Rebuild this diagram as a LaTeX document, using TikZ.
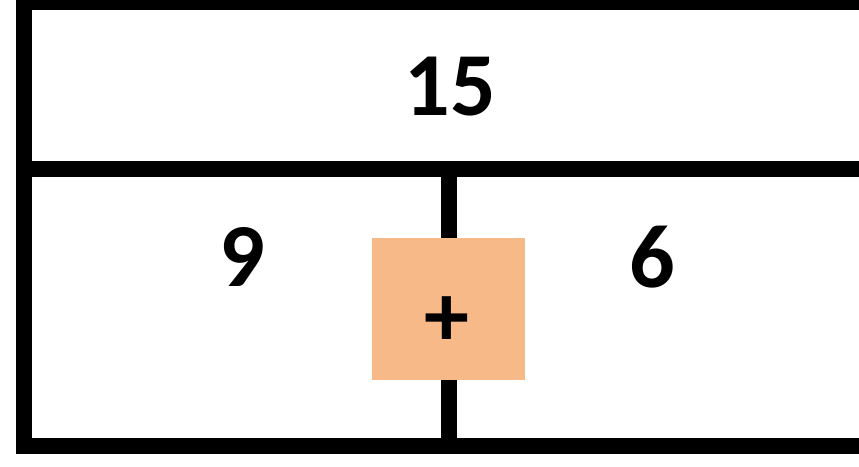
\documentclass[tikz,border=0pt]{standalone}
\usepackage{fontspec}
\setmainfont{Carlito}
\definecolor{plusbg}{HTML}{F6B987}
\begin{document}
\begin{tikzpicture}[x=1pt,y=-1pt,
  frame/.style={line width=16pt,black,line join=miter},
  num/.style={font=\fontsize{90}{90}\selectfont\bfseries,inner sep=0pt,anchor=center},
  plusbox/.style={fill=plusbg,draw=none}]
\useasboundingbox (0,0) rectangle (859,466);
% bar model frame: whole on top, two parts below
\draw[frame] (900,2) -- (23.5,2) -- (23.5,445.5) -- (900,445.5);
\draw[frame] (23.5,169) -- (900,169);
\draw[frame] (449,169) -- (449,445.5);
% labels
\node[num] (whole) at (450,87) {15};
\node[num] (left) at (242.5,257) {9};
\node[num] (right) at (652.5,257) {6};
% operator tile
\fill[plusbox] (372,238) rectangle (525,380);
\node[num] (op) at (447,322) {+};
\end{tikzpicture}
\end{document}
